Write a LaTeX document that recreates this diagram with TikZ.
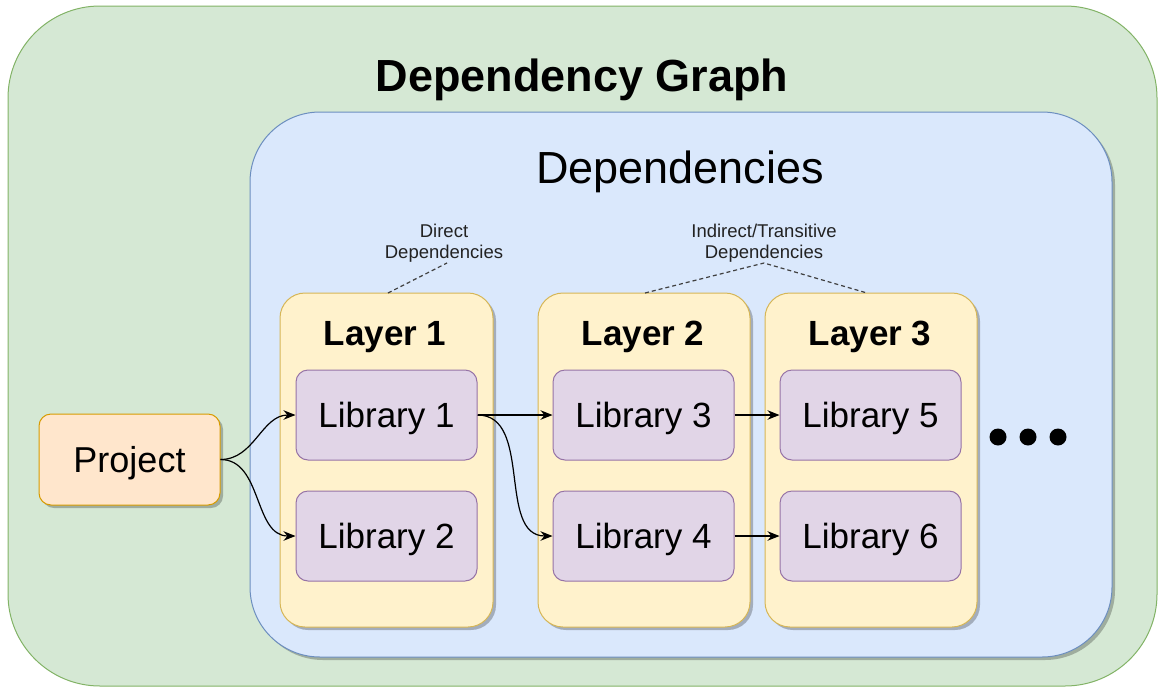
\documentclass[tikz,border=0pt]{standalone}
\usepackage{fontspec}
\setmainfont{Liberation Sans}
\usetikzlibrary{arrows.meta,shadows}

\definecolor{grfill}{HTML}{D5E8D4}\definecolor{grline}{HTML}{82B366}
\definecolor{blfill}{HTML}{DAE8FC}\definecolor{blline}{HTML}{6C8EBF}
\definecolor{yefill}{HTML}{FFF2CC}\definecolor{yeline}{HTML}{D6B656}
\definecolor{pufill}{HTML}{E1D5E7}\definecolor{puline}{HTML}{9673A6}
\definecolor{orfill}{HTML}{FFE6CC}\definecolor{orline}{HTML}{D79B00}
\definecolor{notetext}{HTML}{222222}

\tikzset{
  box/.style={draw, rounded corners=#1, inner sep=0pt, line width=1pt},
  shade/.style={drop shadow={shadow xshift=3pt, shadow yshift=-3pt, opacity=0.25, fill=black}},
  libbox/.style={box=12pt, fill=pufill, draw=puline, minimum width=181pt, minimum height=90pt,
                 text depth=0pt, font=\fontsize{35}{40}\selectfont},
  layerbox/.style={box=25pt, fill=yefill, draw=yeline, minimum height=334pt, shade},
  layertitle/.style={text depth=0pt, font=\bfseries\fontsize{35}{40}\selectfont},
  note/.style={align=center, text=notetext, font=\fontsize{18.5}{21}\selectfont, inner sep=0pt},
  link/.style={-{Stealth[length=12pt,width=9.5pt]}, line width=1.2pt},
  noteline/.style={line width=1.2pt, draw=black!75, dash pattern=on 4pt off 3pt},
  dot/.style={circle, fill=black, minimum size=17pt, inner sep=0pt},
}

\begin{document}
\begin{tikzpicture}[x=1pt,y=-1pt]
\useasboundingbox (0,0) rectangle (1158,688);

% outer container and dependency area
\node[box=92pt, fill=grfill, draw=grline, minimum width=1149pt, minimum height=680pt] (graph) at (582.5,346) {};
\node[text depth=0pt, font=\bfseries\fontsize{45}{50}\selectfont] (graphtitle) at (582,75) {Dependency Graph};
\node[box=70pt, fill=blfill, draw=blline, minimum width=862pt, minimum height=545pt, shade] (deps) at (681,384.5) {};
\node[text depth=0pt, font=\fontsize{45}{50}\selectfont] (depstitle) at (680,167) {Dependencies};

% layers
\node[layerbox, minimum width=213pt] (layer1) at (386.5,460) {};
\node[layerbox, minimum width=212pt] (layer2) at (644,460) {};
\node[layerbox, minimum width=212pt] (layer3) at (871,460) {};
\node[layertitle] (l1t) at (385,333) {Layer 1};
\node[layertitle] (l2t) at (643,333) {Layer 2};
\node[layertitle] (l3t) at (870,333) {Layer 3};

% libraries
\node[libbox] (lib1) at (386.5,415) {Library 1};
\node[libbox] (lib2) at (386.5,536) {Library 2};
\node[libbox] (lib3) at (643.5,415) {Library 3};
\node[libbox] (lib4) at (643.5,536) {Library 4};
\node[libbox] (lib5) at (870.5,415) {Library 5};
\node[libbox] (lib6) at (870.5,536) {Library 6};

% project
\node[box=12pt, fill=orfill, draw=orline, minimum width=181pt, minimum height=91pt, shade,
      text depth=0pt, font=\fontsize{36}{40}\selectfont] (project) at (129.5,459.5) {Project};

% continuation dots
\node[dot] (d1) at (998,437) {};
\node[dot] (d2) at (1028,437) {};
\node[dot] (d3) at (1058,437) {};

% annotations
\node[note, anchor=south] (direct) at (444,263) {Direct\\Dependencies};
\node[note, anchor=south] (indirect) at (764,263) {Indirect/Transitive\\Dependencies};
\coordinate (l1top) at (388,293);
\coordinate (l2top) at (645,293);
\coordinate (l3top) at (867,293);
\draw[noteline] (l1top) -- (447,263);
\draw[noteline] (l2top) -- (indirect.south) -- (l3top);

% dependency edges
\draw[link] (project.east) to[out=0,in=180] (lib1.west);
\draw[link] (project.east) to[out=0,in=180] (lib2.west);
\draw[link] (lib1.east) -- (lib3.west);
\draw[link] (lib1.east) to[out=0,in=180] (lib4.west);
\draw[link] (lib3.east) -- (lib5.west);
\draw[link] (lib4.east) -- (lib6.west);
\end{tikzpicture}
\end{document}
